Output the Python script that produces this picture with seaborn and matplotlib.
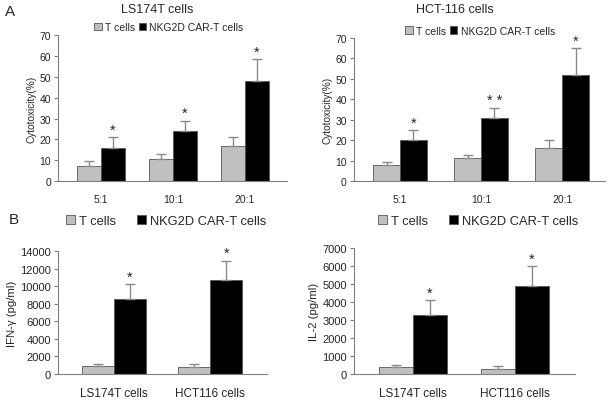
import matplotlib
matplotlib.use("Agg")
import matplotlib.pyplot as plt
from matplotlib.patches import Patch
import seaborn as sns
import pandas as pd

sns.set_style("white")
plt.rcParams['font.family'] = ['Liberation Sans', 'DejaVu Sans']

GROUPS = ["T cells", "NKG2D CAR-T cells"]
COLORS = ["#c0c0c0", "#000000"]

# Panel A - cytotoxicity
ratios = ["5:1", "10:1", "20:1"]
ls_t = [7.2, 10.8, 17.0]
ls_t_err = [2.3, 2.2, 4.0]
ls_car = [16.0, 24.0, 48.0]
ls_car_err = [5.0, 5.0, 10.5]
ls_stars = ["*", "*", "*"]

hct_t = [8.0, 11.2, 16.0]
hct_t_err = [1.3, 1.8, 4.3]
hct_car = [20.0, 31.0, 52.0]
hct_car_err = [5.0, 5.0, 13.0]
hct_stars = ["*", "* *", "*"]

# Panel B - cytokines
cells = ["LS174T cells", "HCT116 cells"]
ifn_t = [900, 850]
ifn_t_err = [200, 250]
ifn_car = [8600, 10700]
ifn_car_err = [1600, 2200]
il2_t = [380, 280]
il2_t_err = [100, 150]
il2_car = [3270, 4870]
il2_car_err = [830, 1130]


def bar_panel(ax, cats, t_vals, t_err, car_vals, car_err, stars, ylim, ystep,
              ylabel, star_off, xlim, fs_tick, fs_x, fs_lab):
    df = pd.DataFrame({
        "cat": cats + cats,
        "val": t_vals + car_vals,
        "group": [GROUPS[0]] * len(cats) + [GROUPS[1]] * len(cats),
    })
    sns.barplot(data=df, x="cat", y="val", hue="group", hue_order=GROUPS,
                palette=COLORS, edgecolor="#555555", linewidth=0.6,
                width=0.66, errorbar=None, legend=False, ax=ax)
    for cont, errs in zip(ax.containers, [t_err, car_err]):
        for p, e in zip(cont.patches, errs):
            xc = p.get_x() + p.get_width() / 2
            ax.errorbar(xc, p.get_height(), yerr=[[0], [e]], fmt="none",
                        ecolor="#8a8a8a", elinewidth=1.0, capsize=3.5,
                        capthick=1.0)
    for p, e, s in zip(ax.containers[1].patches, car_err, stars):
        xc = p.get_x() + p.get_width() / 2
        ax.text(xc, p.get_height() + e + star_off, s, ha="center",
                va="bottom", fontsize=10.5)
    ax.set_ylim(0, ylim)
    ax.set_yticks(range(0, ylim + 1, ystep))
    ax.set_xlim(*xlim)
    ax.set_xlabel("")
    ax.set_ylabel(ylabel, fontsize=fs_lab, labelpad=2)
    sns.despine(ax=ax)
    for sp in ["left", "bottom"]:
        ax.spines[sp].set_color("#808080")
        ax.spines[sp].set_linewidth(0.8)
    ax.tick_params(axis="y", left=True, length=3, width=0.8, color="#808080",
                   labelsize=fs_tick, pad=2)
    ax.tick_params(axis="x", bottom=False, labelsize=fs_x, pad=6)


def add_legend(ax, x, y, fs, colsp):
    handles = [Patch(facecolor=c, edgecolor="#555555", linewidth=0.6)
               for c in COLORS]
    ax.legend(handles, GROUPS, loc="center", bbox_to_anchor=(x, y),
              bbox_transform=fig.transFigure, ncol=2, frameon=False,
              fontsize=fs, handlelength=0.7, handleheight=0.7,
              handletextpad=0.3, columnspacing=colsp, borderpad=0)


fig = plt.figure(figsize=(6.1, 4.02), dpi=100)
ax1 = fig.add_axes([0.095, 0.547, 0.375, 0.363])
ax2 = fig.add_axes([0.580, 0.547, 0.412, 0.356])
ax3 = fig.add_axes([0.095, 0.067, 0.343, 0.306])
ax4 = fig.add_axes([0.580, 0.067, 0.363, 0.314])

bar_panel(ax1, ratios, ls_t, ls_t_err, ls_car, ls_car_err, ls_stars, 70, 10,
          "Cytotoxicity(%)", 0.3, (-0.6, 2.58), 7.5, 7.5, 7.2)
bar_panel(ax2, ratios, hct_t, hct_t_err, hct_car, hct_car_err, hct_stars, 70,
          10, "Cytotoxicity(%)", 0.3, (-0.57, 2.53), 7.5, 7.5, 7.2)
bar_panel(ax3, cells, ifn_t, ifn_t_err, ifn_car, ifn_car_err, ["*", "*"],
          14000, 2000, "IFN-γ (pg/ml)", 60, (-0.58, 1.59), 8, 8.5, 8.2)
bar_panel(ax4, cells, il2_t, il2_t_err, il2_car, il2_car_err, ["*", "*"],
          7000, 1000, "IL-2 (pg/ml)", 30, (-0.58, 1.59), 8, 8.5, 8.2)

add_legend(ax1, 0.277, 0.930, 7.5, 0.4)
add_legend(ax2, 0.787, 0.921, 7.5, 0.4)
add_legend(ax3, 0.272, 0.448, 9.3, 1.6)
add_legend(ax4, 0.784, 0.448, 9.3, 1.6)

fig.text(0.257, 0.975, "LS174T cells", ha="center", va="center", fontsize=9)
fig.text(0.746, 0.975, "HCT-116 cells", ha="center", va="center", fontsize=9)
fig.text(0.008, 0.970, "A", ha="left", va="center", fontsize=11)
fig.text(0.015, 0.453, "B", ha="left", va="center", fontsize=11)

fig.savefig("out.png", dpi=100)
